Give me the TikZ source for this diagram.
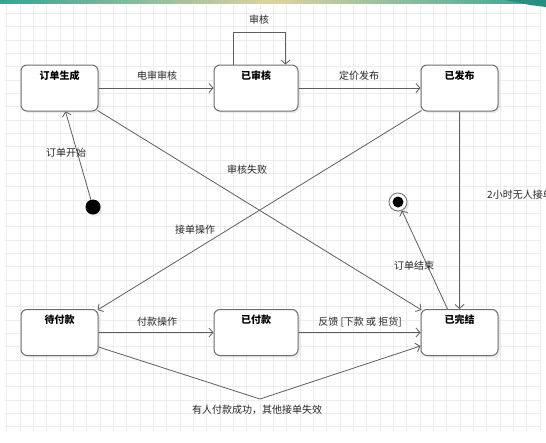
\documentclass[tikz,border=0pt]{standalone}
\usepackage{fontspec}
\setmainfont{Noto Sans CJK SC}
\usetikzlibrary{arrows.meta,shadows,calc}
\definecolor{linec}{RGB}{95,95,95}
\definecolor{boxc}{RGB}{110,110,110}
\definecolor{gridc}{RGB}{236,236,236}
\definecolor{tealA}{RGB}{45,168,150}
\definecolor{yellA}{RGB}{225,210,160}
\begin{document}
\begin{tikzpicture}[x=1pt,y=-1pt,
  stbox/.style={draw=boxc, line width=1pt, rounded corners=6pt, fill=white,
    minimum width=77pt, minimum height=46pt, inner sep=0pt,
    drop shadow={opacity=0.15, shadow xshift=2pt, shadow yshift=-2pt}},
  ttl/.style={font=\fontsize{10}{12}\selectfont\bfseries, inner sep=1pt, text=black},
  conn/.style={draw=linec, line width=0.8pt},
  arr/.style={conn, -{Straight Barb[length=4pt,width=9pt]}},
  lbl/.style={font=\fontsize{10}{12}\selectfont, text=black!85, inner sep=1pt}
]
\useasboundingbox (0,0) rectangle (546,442);
\clip (0,0) rectangle (546,442);
\fill[white] (0,0) rectangle (546,442);
% grid
\foreach \k in {0,...,40} {\draw[gridc, line width=0.6pt] ({6.67+13.33*\k},5) -- ({6.67+13.33*\k},431);}
\foreach \k in {1,...,32} {\draw[gridc, line width=0.6pt] (5,{13.33*\k}) -- (540,{13.33*\k});}
% top strip
\shade[left color=tealA, right color=tealA, middle color=yellA] (0,0) rectangle (546,3);
\fill[tealA!85!black] (505,0) -- (546,0) -- (546,7) -- (530,5) -- cycle;

% states
\node[stbox, label={[ttl,anchor=north,yshift=-5pt]north:订单生成}] (gen) at (59.5,88) {};
\node[stbox, minimum width=84pt, label={[ttl,anchor=north,yshift=-5pt]north:已审核}] (aud) at (256,88) {};
\node[stbox, label={[ttl,anchor=north,yshift=-5pt]north:已发布}] (pub) at (459.5,88) {};
\node[stbox, label={[ttl,anchor=north,yshift=-5pt]north:待付款}] (wait) at (59.5,332.5) {};
\node[stbox, minimum width=84pt, label={[ttl,anchor=north,yshift=-5pt]north:已付款}] (paid) at (256,332.5) {};
\node[stbox, label={[ttl,anchor=north,yshift=-5pt]north:已完结}] (done) at (459.5,332.5) {};

% initial and final
\node[circle, fill=black, minimum size=15pt, inner sep=0pt,
  drop shadow={opacity=0.15, shadow xshift=2pt, shadow yshift=-2pt}] (init) at (93,207) {};
\node[circle, draw=boxc, line width=0.8pt, fill=white, minimum size=18pt, inner sep=0pt,
  drop shadow={opacity=0.15, shadow xshift=2pt, shadow yshift=-2pt}] (fin) at (398,202) {};
\node[circle, fill=black, minimum size=11pt, inner sep=0pt] (finc) at (fin) {};

% connectors
\draw[arr] (gen.east) -- (aud.west);
\draw[arr] (aud.east) -- (pub.west);
\draw[arr] ([xshift=-22.7pt]aud.north) -- ++(0,-32) -| ([xshift=29.5pt]aud.north);
\draw[arr] (wait.east) -- (paid.west);
\draw[arr] (paid.east) -- (done.west);
\draw[arr] ([xshift=-1pt,yshift=1pt]gen.south east) -- ([xshift=1pt,yshift=-1pt]done.north west);
\draw[arr] ([xshift=1pt,yshift=1pt]pub.south west) -- ([xshift=-1pt,yshift=-1pt]wait.north east);
\draw[arr] (pub.south) -- (done.north);
\draw[arr] (init) -- ([xshift=6pt]gen.south);
\draw[arr] ([xshift=-12pt]done.north) -- (fin);
\coordinate (vtx) at (260,399);
\draw[arr] ([yshift=-14.5pt]wait.east) -- (vtx) -- ([yshift=-13.5pt]done.west);

% labels
\node[lbl] (l1) at (259,20) {审核};
\node[lbl] (l2) at (157,76) {电审审核};
\node[lbl] (l3) at (359,76) {定价发布};
\node[lbl] (l4) at (66,153) {订单开始};
\node[lbl] (l5) at (247,170) {审核失败};
\node[lbl] (l6) at (195,230) {接单操作};
\node[lbl] (l7) at (414,266) {订单结束};
\node[lbl, anchor=west] (l8) at (486,195) {2小时无人接单};
\node[lbl] (l9) at (157,322) {付款操作};
\node[lbl] (l10) at (360,322) {反馈 [下款 或 拒货]};
\node[lbl] (l11) at (257,410) {有人付款成功，其他接单失效};
\end{tikzpicture}
\end{document}
